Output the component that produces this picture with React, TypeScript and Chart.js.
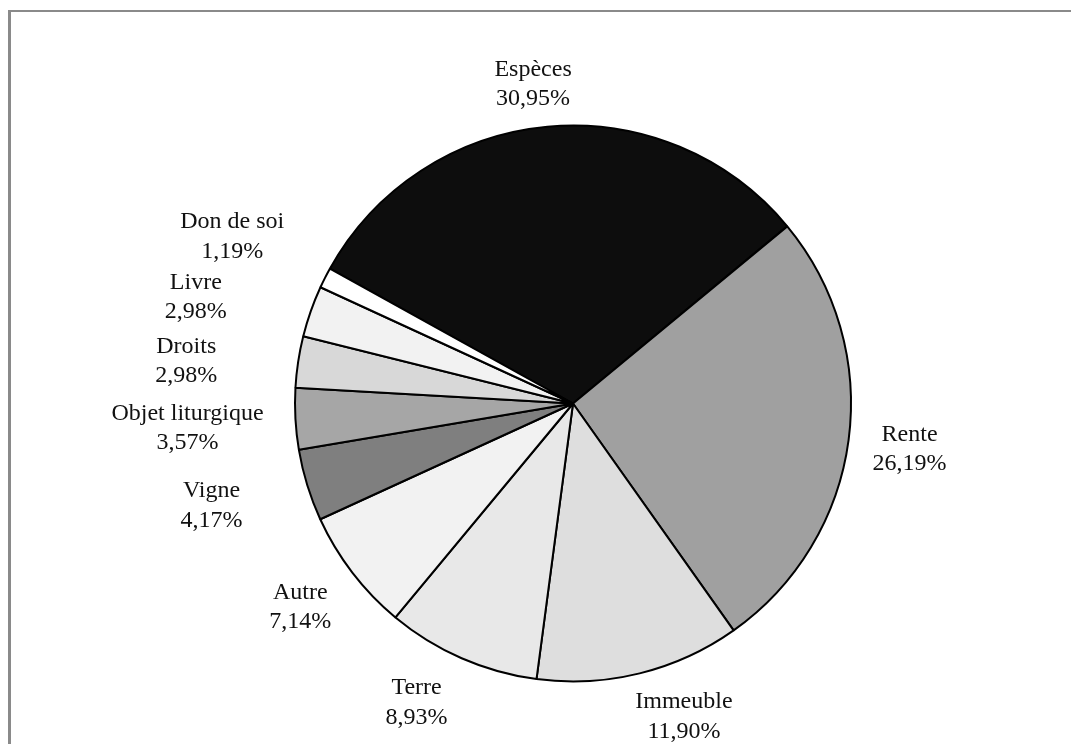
import React, { useEffect, useRef } from "react";
import { Chart, registerables } from "chart.js";

Chart.register(...registerables);

// ---- data ----
const categories = [
  "Espèces",
  "Rente",
  "Immeuble",
  "Terre",
  "Autre",
  "Vigne",
  "Objet liturgique",
  "Droits",
  "Livre",
  "Don de soi",
];
const shares = [30.95, 26.19, 11.9, 8.93, 7.14, 4.17, 3.57, 2.98, 2.98, 1.19];
const sliceColors = [
  "#0d0d0d",
  "#a0a0a0",
  "#dedede",
  "#e8e8e8",
  "#f2f2f2",
  "#7f7f7f",
  "#a6a6a6",
  "#d8d8d8",
  "#f2f2f2",
  "#ffffff",
];

// ---- label layout (polar nudges relative to each slice's mid-angle) ----
const labelAngleNudge = [-1.8, -0.1, -5.7, 4.1, 0.9, 1.5, -0.3, -2.2, -3.4, -0.6];
const labelDistRatio = [1.163, 1.221, 1.191, 1.21, 1.221, 1.35, 1.389, 1.4, 1.411, 1.367];

const FONT = "24px 'Liberation Serif', 'Times New Roman', serif";

const fmt = (v: number) => v.toFixed(2).replace(".", ",") + "%";

const labelPlugin = {
  id: "outsideLabels",
  afterDatasetsDraw(chart: any) {
    const ctx = chart.ctx;
    const meta = chart.getDatasetMeta(0);
    ctx.save();
    ctx.font = FONT;
    ctx.fillStyle = "#111";
    ctx.textAlign = "center";
    ctx.textBaseline = "alphabetic";
    meta.data.forEach((arc: any, i: number) => {
      const p = arc.getProps(["x", "y", "startAngle", "endAngle", "outerRadius"], true);
      const mid = (p.startAngle + p.endAngle) / 2 + (labelAngleNudge[i] * Math.PI) / 180;
      const d = p.outerRadius * labelDistRatio[i];
      const lx = p.x + d * Math.cos(mid);
      const ly = p.y + d * Math.sin(mid);
      ctx.fillText(categories[i], lx, ly - 7);
      ctx.fillText(fmt(shares[i]), lx, ly + 22.5);
    });
    ctx.restore();
  },
};

export default function App() {
  const ref = useRef<HTMLCanvasElement>(null);
  useEffect(() => {
    if (!ref.current) return;
    const chart = new Chart(ref.current, {
      type: "pie",
      data: {
        labels: categories,
        datasets: [
          {
            data: shares,
            backgroundColor: sliceColors,
            borderColor: "#000",
            borderWidth: 2,
            borderAlign: "center",
          },
        ],
      },
      options: {
        responsive: false,
        animation: false,
        rotation: -61,
        layout: { padding: { top: 124, left: 294, right: 219, bottom: 61 } },
        plugins: {
          legend: { display: false },
          tooltip: { enabled: false },
        },
      },
      plugins: [labelPlugin],
    });
    return () => chart.destroy();
  }, []);

  return (
    <div style={{ position: "fixed", left: 0, top: 0, width: 1071, height: 744, overflow: "hidden", background: "#fff" }}>
      <div
        style={{
          position: "absolute",
          left: 8,
          top: 10,
          width: 1120,
          height: 800,
          borderTop: "2px solid #8a8a8a",
          borderLeft: "3px solid #8a8a8a",
          boxSizing: "border-box",
        }}
      />
      <canvas ref={ref} width={1071} height={744} style={{ position: "absolute", left: 0, top: 0 }} />
    </div>
  );
}
